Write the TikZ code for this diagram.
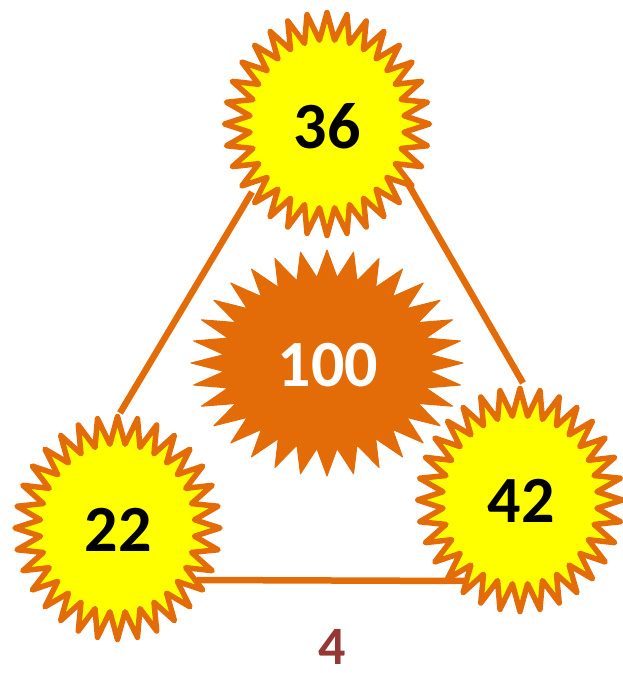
\documentclass[tikz,border=0pt]{standalone}
\usepackage{fontspec}
\setmainfont{Carlito}
\pgfdeclarelayer{lines}
\pgfdeclarelayer{stars}
\pgfsetlayers{lines,stars,main}
\definecolor{sunorange}{HTML}{E36C09}
\definecolor{sunyellow}{HTML}{FFFF00}
\definecolor{numred}{HTML}{953735}
\tikzset{
  num/.style={font=\fontsize{66}{66}\selectfont\bfseries, inner sep=0pt},
  sunline/.style={draw=sunorange, fill=sunyellow, line width=5.5pt, line join=round},
  bigsun/.style={draw=sunorange, fill=sunorange, line width=1pt, line join=round},
  link/.style={draw=sunorange, line width=6.5pt}
}
\newcommand\sunstar[5]{% #1 centre, #2 rx, #3 ry, #4 inner ratio, #5 style
  \path[#5, shift={(#1)}] plot[domain=0:63, samples=64, variable=\t]
    ({(mod(round(\t),2)==0 ? #2 : #2*#4)*cos(90+5.625*\t)},
     {(mod(round(\t),2)==0 ? #3 : #3*#4)*sin(90+5.625*\t)}) -- cycle;
}
\begin{document}
\begin{tikzpicture}[x=1pt,y=1pt]
\useasboundingbox (0,0) rectangle (623,-673);
% text nodes
\node[num] (t)  at (327,-126) {36};
\node[num] (bl) at (118,-530) {22};
\node[num] (br) at (521,-501) {42};
\node[num, text=white] (m) at (328,-365) {100};
\node[font=\fontsize{54}{54}\selectfont\bfseries, text=numred, inner sep=0pt] (four) at (332,-647) {4};
% stars
\begin{pgfonlayer}{stars}
\sunstar{327,-124}{102.5}{111.5}{0.755}{sunline}
\sunstar{117.5,-528}{102.5}{111.5}{0.755}{sunline}
\sunstar{520,-500}{102.5}{111.5}{0.755}{sunline}
\sunstar{327,-363}{136}{113}{0.76}{bigsun}
\end{pgfonlayer}
% connectors
\coordinate (tl1) at ([shift={(-75,-66)}]t.center);
\coordinate (tl2) at ([shift={(2,117)}]bl.center);
\coordinate (tr1) at ([shift={(80,-56)}]t.center);
\coordinate (tr2) at ([shift={(2,118)}]br.center);
\coordinate (b1) at ([shift={(79,-50)}]bl.center);
\coordinate (b2) at ([shift={(-51,-80)}]br.center);
\begin{pgfonlayer}{lines}
\draw[link] (tl1) -- (tl2);
\draw[link] (tr1) -- (tr2);
\draw[link] (b1) -- (b2);
\end{pgfonlayer}
\end{tikzpicture}
\end{document}
